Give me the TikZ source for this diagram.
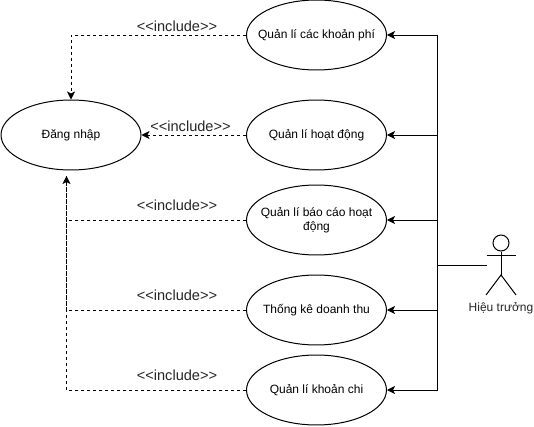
\documentclass[tikz,border=0pt]{standalone}
\usepackage{fontspec}
\setmainfont{Liberation Sans}
\usetikzlibrary{positioning,arrows.meta,shapes}
\newcommand{\inclabel}{<{}<include>{}>}

\begin{document}
\begin{tikzpicture}[x=0.02cm,y=-0.02cm,line width=0.02cm,
    usecase/.style={ellipse,draw,minimum width=2.8cm,minimum height=1.4cm,inner xsep=-0.6cm,inner ysep=0pt,align=center,font=\fontsize{6.83}{7.97}\selectfont},
    stereo/.style={inner sep=0pt,font=\fontsize{8.3}{9.5}\selectfont,text=black!85},
    assoc/.style={-{Stealth[length=0.16cm,width=0.16cm,inset=0.04cm]}},
    dep/.style={dashed,dash pattern=on 0.06cm off 0.06cm,-{Stealth[length=0.16cm,width=0.16cm,inset=0.04cm]}},
    depline/.style={dashed,dash pattern=on 0.06cm off 0.06cm}]
      \useasboundingbox (0,0) rectangle (534,426);

      \node[usecase] (login) at (71,135) {Đăng nhập};

      \node[usecase] (fees) at (316.5,35) {Quản lí các khoản phí};
      \node[usecase] (activity) at (316.5,135) {Quản lí hoạt động};
      \node[usecase] (report) at (316.5,220) {Quản lí báo cáo hoạt\\động};
      \node[usecase] (revenue) at (316.5,310) {Thống kê doanh thu};
      \node[usecase] (spending) at (316.5,390) {Quản lí khoản chi};

      \node[stereo] (inc1) at (177,26) {\inclabel};
      \node[stereo] (inc2) at (190.5,126) {\inclabel};
      \node[stereo] (inc3) at (177,205.5) {\inclabel};
      \node[stereo] (inc4) at (177,295.5) {\inclabel};
      \node[stereo] (inc5) at (177,375.5) {\inclabel};

      % actor
      \node[circle,draw,minimum width=0.32cm,inner sep=0pt] (head) at (501,243) {};
      \coordinate (hip) at (501,275);
      \coordinate (handl) at (487,265.5);
      \draw (head) -- (hip);
      \draw (486.5,255.5) -- (516,255.5);
      \draw (486,295) -- (hip) -- (516,295);
      \node[inner sep=0pt,font=\fontsize{6.83}{7.97}\selectfont,text=black!85] (principal) at (501,308) {Hiệu trưởng};

      \coordinate (trunk) at (437,265.5);
      \coordinate (loginin) at (66.5,176);
      \draw (handl) -- (trunk);
      \foreach \uc in {fees,activity,report,revenue,spending}
        \draw[assoc] (trunk) |- (\uc.east);

      \draw[dep] (fees.west) -| (login.north);
      \draw[dep] (activity.west) -- (login.east);
      \draw[dep] (report.west) -| (loginin);
      \draw[depline] (revenue.west) -| (loginin);
      \draw[depline] (spending.west) -| (loginin);
\end{tikzpicture}
\end{document}
